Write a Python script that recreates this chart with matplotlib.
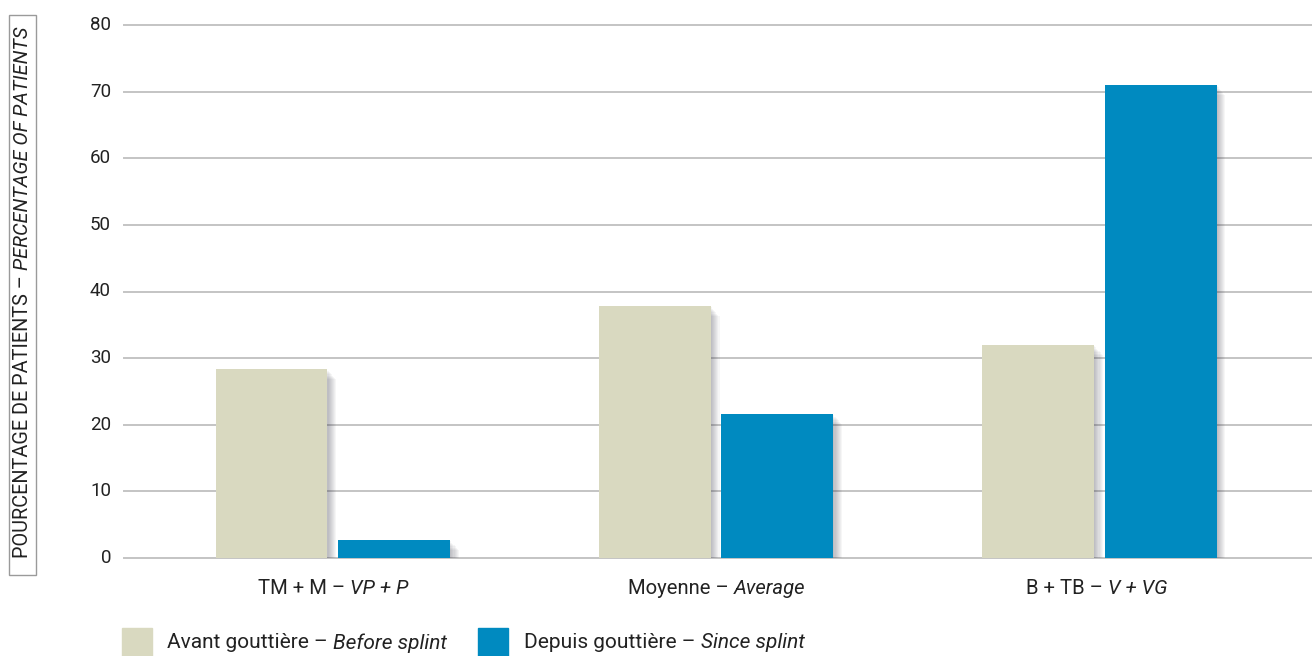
import matplotlib
matplotlib.use("Agg")
import matplotlib.pyplot as plt
import matplotlib.patheffects as pe
from matplotlib.patches import Rectangle
import numpy as np

categories = [("TM + M – ", "VP + P"), ("Moyenne – ", "Average"), ("B + TB – ", "V + VG")]
before = [28.3, 37.8, 32.0]
since = [2.7, 21.6, 71.0]
series_labels = [("Avant gouttière – ", "Before splint"), ("Depuis gouttière – ", "Since splint")]
yticks = [0, 10, 20, 30, 40, 50, 60, 70, 80]

C_BEFORE = "#D9D9C0"
C_SINCE = "#008AC0"
C_TEXT = "#222222"
FONT = "Roboto"

W, H = 1312, 656
fig = plt.figure(figsize=(W / 100, H / 100), dpi=100)
plt.rcParams["font.family"] = [FONT, "DejaVu Sans"]

def fx(px):
    return px / W

def fy(py):
    return 1 - py / H

ax_left, ax_right = 124, 1312
ax_top, ax_bot = 25, 558
ax = fig.add_axes([fx(ax_left), fy(ax_bot), fx(ax_right - ax_left), (ax_bot - ax_top) / H])
ax.set_ylim(0, 80)
ax.set_xlim(-0.545, 2.555)
for s in ax.spines.values():
    s.set_visible(False)
ax.set_xticks([])
ax.set_yticks([])
ylab_tf = matplotlib.transforms.blended_transform_factory(fig.transFigure, ax.transData)
for t in yticks:
    ax.axhline(t, color="#C4C4C4", lw=1.4, zorder=0, clip_on=False)
    fig.text(fx(111), t, str(t), ha="right", va="center", fontsize=13.5,
             color=C_TEXT, transform=ylab_tf)

x = np.arange(len(categories))
bw = 0.292
off = 0.16
shadow = [pe.SimplePatchShadow(offset=(k * 0.8, -k * 0.9), shadow_rgbFace="#303040", alpha=0.045) for k in range(1, 9)] + [pe.Normal()]
b1 = ax.bar(x - off, before, bw, color=C_BEFORE, zorder=2)
b2 = ax.bar(x + off, since, bw, color=C_SINCE, zorder=2)
for p in list(b1) + list(b2):
    p.set_path_effects(shadow)

fig.canvas.draw()
r = fig.canvas.get_renderer()

def mixed(xc, yc, parts, size, rotation=0, ha="center"):
    """parts: list of (text, style). xc, yc in pixel coords (top-origin)."""
    texts = []
    for s, st in parts:
        t = fig.text(0, 0, s, fontsize=size, style=st, color=C_TEXT, rotation=rotation,
                     ha="left", va="center", rotation_mode="anchor")
        texts.append(t)
    widths = []
    for t in texts:
        bb = t.get_window_extent(r)
        widths.append(bb.width if rotation == 0 else bb.height)
    total = sum(widths)
    pos = -total / 2 if ha == "center" else 0
    for t, w in zip(texts, widths):
        if rotation == 0:
            t.set_position((fx(xc + pos), fy(yc)))
        else:
            t.set_position((fx(xc), fy(yc - pos)))
        pos += w

group_px = [333, 717, 1097]
for gx, (a, b) in zip(group_px, categories):
    mixed(gx, 589, [(a, "normal"), (b, "italic")], 14.6)

# y label
mixed(22, 292, [("POURCENTAGE DE PATIENTS – ", "normal"), ("PERCENTAGE OF PATIENTS", "italic")], 14.3, rotation=90)
fig.add_artist(Rectangle((fx(9), fy(575)), fx(27), (575 - 15) / H, transform=fig.transFigure,
                         fill=False, ec="#9A9A9A", lw=1))

# legend
fig.add_artist(Rectangle((fx(122), fy(657)), fx(30), 29 / H, transform=fig.transFigure, color=C_BEFORE))
fig.add_artist(Rectangle((fx(478), fy(657)), fx(30), 29 / H, transform=fig.transFigure, color=C_SINCE))
mixed(167, 643, [(series_labels[0][0], "normal"), (series_labels[0][1], "italic")], 15, ha="left")
mixed(524, 643, [(series_labels[1][0], "normal"), (series_labels[1][1], "italic")], 15, ha="left")

fig.savefig("out.png", dpi=100)
